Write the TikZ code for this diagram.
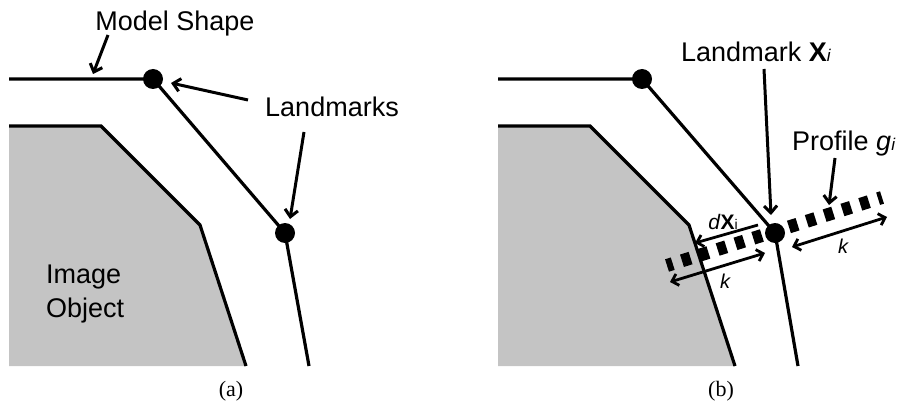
\documentclass[tikz,border=0pt]{standalone}
\usepackage{fontspec}
\setmainfont{Liberation Sans}
\newfontfamily\capfont{Liberation Serif}
\usetikzlibrary{arrows.meta}
\definecolor{objgray}{RGB}{196,196,196}
\tikzset{
  edge/.style={line width=3.2pt, line join=miter},
  lmdot/.style={circle, fill=black, inner sep=0pt, minimum size=20pt},
  lbl/.style={inner sep=0pt, font=\fontsize{27}{32}\selectfont},
  klbl/.style={inner sep=0pt, font=\fontsize{20}{24}\selectfont\itshape},
  caplbl/.style={inner sep=0pt, font=\capfont\fontsize{22}{26}\selectfont},
  ptr/.style={line width=3pt, -{Straight Barb[length=7pt,width=13pt]}},
  dptr/.style={line width=2.8pt, {Straight Barb[length=6pt,width=12pt]}-{Straight Barb[length=6pt,width=12pt]}},
  profile/.style={line width=13pt, dash pattern=on 9pt off 9.7pt, dash phase=3pt}
}
\begin{document}
\begin{tikzpicture}[x=1pt,y=-1pt]
\useasboundingbox (0,0) rectangle (901,406);
% ---------------- panel (a) ----------------
\fill[objgray] (9,126) -- (101,126) -- (200,225) -- (246,366) -- (9,366) -- cycle;
\draw[edge] (9,126) -- (101,126) -- (200,225) -- (246,366);
\coordinate (a0) at (9,79);
\coordinate (a1) at (153,79);
\coordinate (a2) at (285,233);
\coordinate (a3) at (309,366);
\draw[edge] (a0) -- (a1) -- (a2) -- (a3);
\node[lmdot] (lma1) at (a1) {};
\node[lmdot] (lma2) at (a2) {};
\node[lbl, anchor=base] (ms) at (175,31) {Model Shape};
\node[lbl, anchor=base] (lms) at (332,117) {Landmarks};
\node[lbl, anchor=base west] (img1) at (46,283) {Image};
\node[lbl, anchor=base west] (img2) at (46,317) {Object};
\coordinate (msA) at (108,35);
\coordinate (msB) at (93,74);
\draw[ptr] (msA) -- (msB);
\coordinate (lmA) at (248,100);
\coordinate (lmB) at (171,83);
\draw[ptr] (lmA) -- (lmB);
\coordinate (lmC) at (304,132);
\coordinate (lmD) at (290,219);
\draw[ptr] (lmC) -- (lmD);
\node[caplbl] (capa) at (231,391) {(a)};
% ---------------- panel (b) ----------------
\fill[objgray] (498,126) -- (590,126) -- (689,225) -- (735,366) -- (498,366) -- cycle;
\draw[edge] (498,126) -- (590,126) -- (689,225) -- (735,366);
\coordinate (b0) at (498,79);
\coordinate (b1) at (642,79);
\coordinate (b2) at (775,233);
\coordinate (b3) at (798,366);
\draw[edge] (b0) -- (b1) -- (b2) -- (b3);
\coordinate (ps) at (667,265.5);
\coordinate (pe) at (882,197.5);
\draw[profile] (ps) -- (pe);
\node[lmdot] (lmb1) at (b1) {};
\node[lmdot] (lmb2) at (b2) {};
\node[lbl, anchor=base west] (lmx) at (681,62) {Landmark \textbf{X}{\fontsize{17}{20}\selectfont\itshape i}};
\node[lbl, anchor=base west] (prof) at (792,150) {Profile \textit{g}{\fontsize{17}{20}\selectfont\itshape i}};
\coordinate (lxA) at (764,69);
\coordinate (lxB) at (771,215);
\draw[ptr] (lxA) -- (lxB);
\coordinate (pfA) at (835,158);
\coordinate (pfB) at (829,205);
\draw[ptr] (pfA) -- (pfB);
\coordinate (kr1) at (792,247);
\coordinate (kr2) at (887,217);
\draw[dptr] (kr1) -- (kr2);
\coordinate (kl1) at (670,282);
\coordinate (kl2) at (765,253);
\draw[dptr] (kl1) -- (kl2);
\coordinate (dx1) at (758,225);
\coordinate (dx2) at (695,243);
\draw[line width=2.8pt, -{Straight Barb[length=6pt,width=12pt]}] (dx1) -- (dx2);
\node[klbl] (kr) at (843,246) {k};
\node[klbl] (kl) at (725,281) {k};
\node[inner sep=0pt, font=\fontsize{21}{24}\selectfont] (dxl) at (723,222) {\textit{d}\textbf{X}{\fontsize{14}{16}\selectfont i}};
\node[caplbl] (capb) at (721,391) {(b)};
\end{tikzpicture}
\end{document}
